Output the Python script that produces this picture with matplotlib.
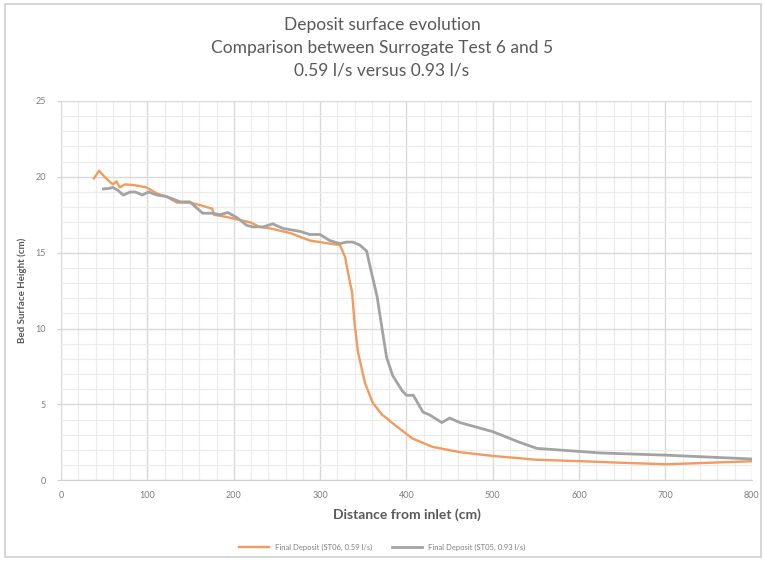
import matplotlib.pyplot as plt
from matplotlib.patches import Rectangle
from matplotlib.ticker import MultipleLocator

plt.rcParams['font.family'] = ['Lato', 'DejaVu Sans']

# Final deposit profile, test ST06 (0.59 l/s)
st06_x = [38, 44, 52, 60, 64, 68, 74, 85, 99, 111, 122, 134, 149, 160, 175, 177,
          192, 207, 219, 230, 242, 265, 288, 311, 323, 329, 334, 337, 340, 344,
          352, 361, 372, 377, 383, 392, 407, 430, 462, 500, 531, 550, 604, 650,
          701, 750, 800]
st06_y = [19.9, 20.4, 19.9, 19.5, 19.7, 19.3, 19.5, 19.45, 19.3, 18.9, 18.7, 18.3,
          18.3, 18.15, 17.9, 17.5, 17.35, 17.15, 17.0, 16.7, 16.6, 16.3, 15.8, 15.6,
          15.5, 14.7, 13.2, 12.4, 10.3, 8.4, 6.4, 5.1, 4.3, 4.1, 3.8, 3.4, 2.75,
          2.2, 1.85, 1.6, 1.45, 1.35, 1.25, 1.15, 1.05, 1.15, 1.25]

# Final deposit profile, test ST05 (0.93 l/s)
st05_x = [49, 57, 60, 66, 72, 80, 86, 94, 101, 111, 122, 138, 149, 164, 176, 184,
          193, 204, 215, 222, 234, 245, 257, 277, 288, 300, 311, 323, 331, 338,
          346, 354, 357, 366, 372, 377, 384, 395, 400, 408, 419, 427, 441, 450,
          462, 500, 531, 551, 624, 701, 800]
st05_y = [19.2, 19.25, 19.3, 19.1, 18.8, 19.0, 19.0, 18.8, 19.0, 18.8, 18.7, 18.35,
          18.35, 17.6, 17.6, 17.5, 17.65, 17.3, 16.8, 16.7, 16.7, 16.9, 16.6, 16.4,
          16.2, 16.2, 15.8, 15.6, 15.7, 15.7, 15.5, 15.1, 14.3, 12.1, 9.9, 8.1, 6.9,
          5.9, 5.6, 5.6, 4.5, 4.3, 3.8, 4.1, 3.8, 3.2, 2.5, 2.1, 1.8, 1.65, 1.4]

x_ticks = [0, 100, 200, 300, 400, 500, 600, 700, 800]
y_ticks = [0, 5, 10, 15, 20, 25]

fig = plt.figure(figsize=(7.64, 5.61), dpi=100)
ax = fig.add_axes([0.080, 0.144, 0.904, 0.676])

ax.plot(st06_x, st06_y, color='#f39b5e', lw=1.7, label='Final Deposit (ST06, 0.59 l/s)')
ax.plot(st05_x, st05_y, color='#a3a3a3', lw=2.0, label='Final Deposit (ST05, 0.93 l/s)')

ax.set_xlim(0, 800)
ax.set_ylim(0, 25)
ax.set_xticks(x_ticks)
ax.set_yticks(y_ticks)
ax.xaxis.set_minor_locator(MultipleLocator(20))
ax.yaxis.set_minor_locator(MultipleLocator(1))
ax.grid(which='major', color='#d9d9d9', lw=1.0)
ax.grid(which='minor', color='#ebebeb', lw=0.8)
ax.set_axisbelow(True)

for side in ['top', 'right', 'left']:
    ax.spines[side].set_visible(False)
ax.spines['bottom'].set_color('#d0d0d0')
ax.tick_params(which='both', length=0, labelsize=6.5, labelcolor='#7f7f7f', pad=8)
ax.tick_params(axis='y', which='major', length=3, color='#d0d0d0')

ax.set_xlabel('Distance from inlet (cm)', fontsize=10, fontweight='bold',
              color='#595959', labelpad=6)
ax.set_ylabel('Bed Surface Height (cm)', fontsize=7, fontweight='bold',
              color='#595959', labelpad=6)

fig.text(0.5, 0.955, 'Deposit surface evolution', ha='center', va='center',
         fontsize=12.5, color='#595959')
fig.text(0.5, 0.915, 'Comparison between Surrogate Test 6 and 5', ha='center',
         va='center', fontsize=12.5, color='#595959')
fig.text(0.5, 0.874, '0.59 l/s versus 0.93 l/s', ha='center', va='center',
         fontsize=12.5, color='#595959')

fig.legend(loc='center', bbox_to_anchor=(0.5, 0.025), ncol=2, frameon=False,
           fontsize=5.5, labelcolor='#7f7f7f', handlelength=4, columnspacing=2.5)

# chart frame
fig.patches.append(Rectangle((0.006, 0.007), 0.99, 0.985, transform=fig.transFigure,
                             fill=False, edgecolor='#cfcfcf', lw=1.2))

fig.savefig('out.png', dpi=100)
